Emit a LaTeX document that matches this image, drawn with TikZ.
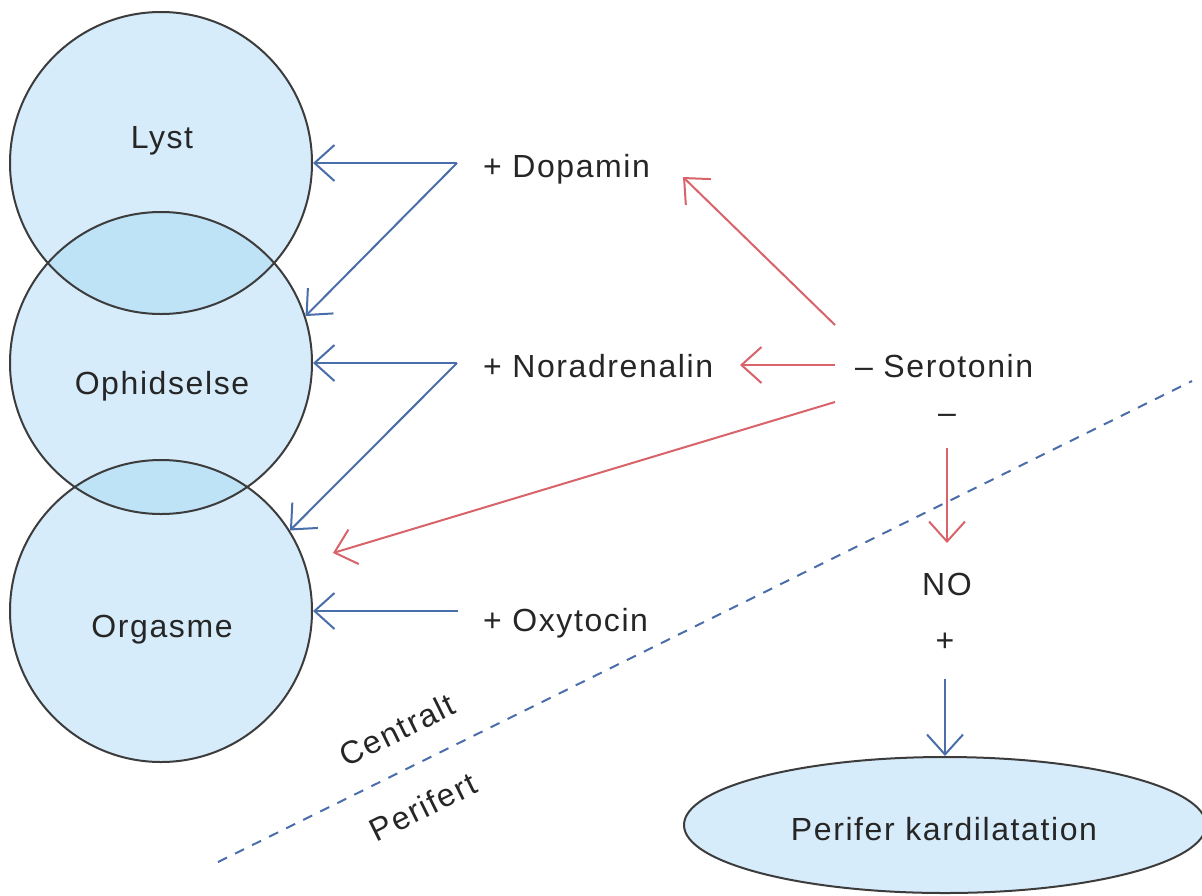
\documentclass[tikz,border=0pt]{standalone}
\usepackage{fontspec}
\setmainfont{Liberation Sans}[LetterSpace=5]
\usetikzlibrary{arrows.meta,shapes.geometric}
\definecolor{fillc}{HTML}{D7ECFA}
\definecolor{lensc}{HTML}{BEE2F6}
\definecolor{bl}{HTML}{4A6EA9}
\definecolor{rd}{HTML}{D8636A}
\definecolor{edgec}{HTML}{3C3C3C}
\definecolor{txt}{HTML}{262626}
\begin{document}
\begin{tikzpicture}[x=1pt,y=-1pt,
  lbl/.style={font=\fontsize{32}{38}\selectfont, text=txt, inner sep=0pt},
  bubble/.style={circle, draw=edgec, line width=2pt, minimum size=302pt, inner sep=0pt},
  barrow/.style={draw=bl, line width=2pt, -{Straight Barb[length=20pt,width=36pt]}},
  rarrow/.style={draw=rd, line width=2pt, -{Straight Barb[length=20pt,width=36pt]}},
  divider/.style={draw=bl, line width=2pt, dash pattern=on 10pt off 9pt}
]
\fill[white] (0,0) rectangle (1202,895);
\useasboundingbox (0,0) rectangle (1202,895);

% circle fills
\fill[fillc] (161,163) circle[radius=151];
\fill[fillc] (161,363) circle[radius=151];
\fill[fillc] (161,611) circle[radius=151];
\begin{scope}
  \clip (161,163) circle[radius=151];
  \fill[lensc] (161,363) circle[radius=151];
\end{scope}
\begin{scope}
  \clip (161,363) circle[radius=151];
  \fill[lensc] (161,611) circle[radius=151];
\end{scope}

% circle outlines
\node[bubble] (lyst) at (161,163) {};
\node[bubble] (oph) at (161,363) {};
\node[bubble] (org) at (161,611) {};

% circle labels
\node[lbl,anchor=base] (lystT) at (162,148) {Lyst};
\node[lbl,anchor=base] (ophT) at (162,394) {Ophidselse};
\node[lbl,anchor=base] (orgT) at (162,637) {Orgasme};

% substance labels
\node[lbl,anchor=base west] (dop) at (483,177) {+ Dopamin};
\node[lbl,anchor=base west] (nor) at (483,377) {+ Noradrenalin};
\node[lbl,anchor=base west] (oxy) at (483,631) {+ Oxytocin};
\node[lbl,anchor=base west] (ser) at (855,377) {– Serotonin};
\node[lbl,anchor=base] (minus) at (947,423) {–};
\node[lbl,anchor=base] (no) at (947,595) {NO};
\node[lbl,anchor=base] (plus) at (945,651) {+};

% ellipse
\node[ellipse, draw=edgec, fill=fillc, line width=2pt, minimum width=522pt,
      minimum height=136pt, inner sep=0pt] (per) at (945,825) {};
\node[lbl,anchor=base] (perT) at (944,840) {Perifer kardilatation};

% rotated labels
\node[lbl, rotate=26.3] (cen) at (397,730) {Centralt};
\node[lbl, rotate=26.3] (perf) at (423,807) {Perifert};

% coordinates
\coordinate (jd) at (457,163);
\coordinate (jn) at (457,363);
\coordinate (jo) at (458,611);
\coordinate (s1) at (835,325);
\coordinate (s2) at (835,365);
\coordinate (s3) at (835,402);
\coordinate (dtip) at (683,177);
\coordinate (ntip) at (740,365);
\coordinate (otip) at (333,553);
\coordinate (sdown) at (947,448);
\coordinate (notip) at (947,543);
\coordinate (d1) at (218,862);
\coordinate (d2) at (1192,381);

% blue arrows
\draw[barrow] (jd) -- (lyst.east);
\draw[barrow] (jd) -- (oph.18);
\draw[barrow] (jn) -- (oph.east);
\draw[barrow] (jn) -- (org.32);
\draw[barrow] (jo) -- (org.east);
\draw[barrow] ([yshift=-28pt]plus.base) -- (per.north);

% red arrows
\draw[rarrow] (s1) -- (dtip);
\draw[rarrow] (s2) -- (ntip);
\draw[rarrow] (s3) -- (otip);
\draw[rarrow] (sdown) -- (notip);

% divider
\draw[divider] (d1) -- (d2);
\end{tikzpicture}
\end{document}
